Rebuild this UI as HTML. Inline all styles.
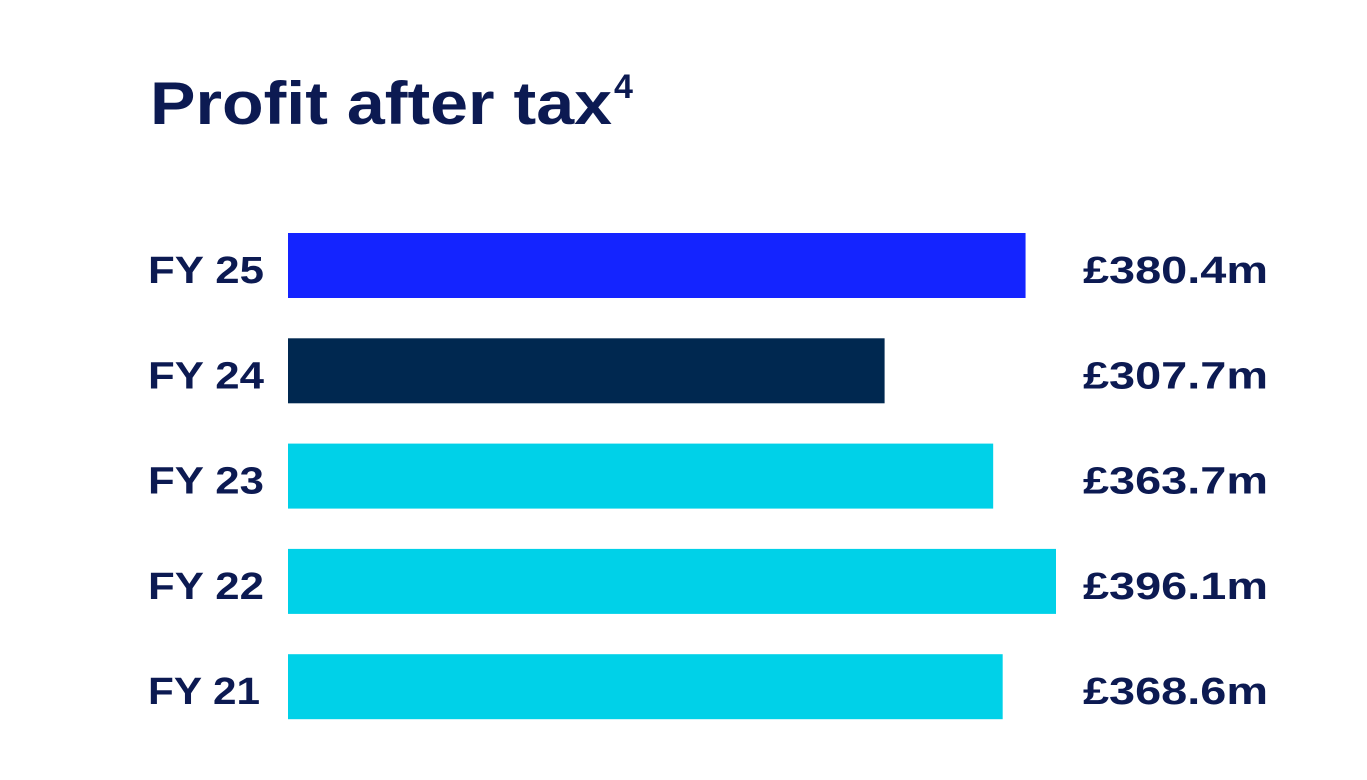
<!DOCTYPE html>
<html><head><meta charset="utf-8"><style>
html,body{margin:0;padding:0;background:#fff;}
svg{display:block;font-family:"Liberation Sans",sans-serif;font-weight:bold;}
</style></head><body>
<svg id="chart" width="1367" height="780" viewBox="0 0 1367 780">
<text x="150" y="124" font-size="60" fill="#0c1a52" textLength="462" lengthAdjust="spacingAndGlyphs">Profit after tax</text>
<text x="614" y="98" font-size="34" fill="#0c1a52">4</text>
<g id="bars"></g>
</svg>
<script>
const categories = ["FY 25","FY 24","FY 23","FY 22","FY 21"];
const values = [380.4, 307.7, 363.7, 396.1, 368.6];
const valueLabels = ["£380.4m","£307.7m","£363.7m","£396.1m","£368.6m"];
const barColors = ["#1424ff","#002850","#00d1e8","#00d1e8","#00d1e8"];
const x0 = 288, scale = (1056 - 288) / 396.1;
function xPos(v){ return x0 + v * scale; }
function yPos(i){ return 233 + i * 105.3; }
const g = document.getElementById('bars');
const NS = "http://www.w3.org/2000/svg";
categories.forEach((c, i) => {
  const y = yPos(i);
  const r = document.createElementNS(NS, 'rect');
  
  
  r.setAttribute('x', x0); r.setAttribute('y', y);
  r.setAttribute('width', xPos(values[i]) - x0); r.setAttribute('height', 65);
  r.setAttribute('fill', barColors[i]);
  g.appendChild(r);
  const t = document.createElementNS(NS, 'text');
  
  
  t.setAttribute('x', 148); t.setAttribute('y', y + 50);
  t.setAttribute('font-size', 38); t.setAttribute('fill', '#0c1a52');
  t.setAttribute('textLength', c === "FY 21" ? 112 : 116);
  t.setAttribute('lengthAdjust', 'spacingAndGlyphs');
  t.textContent = c;
  g.appendChild(t);
  const v = document.createElementNS(NS, 'text');
  
  
  v.setAttribute('x', 1083); v.setAttribute('y', y + 50);
  v.setAttribute('font-size', 38); v.setAttribute('fill', '#0c1a52');
  v.setAttribute('textLength', 185);
  v.setAttribute('lengthAdjust', 'spacingAndGlyphs');
  v.textContent = valueLabels[i];
  g.appendChild(v);
});
</script>
</body></html>
